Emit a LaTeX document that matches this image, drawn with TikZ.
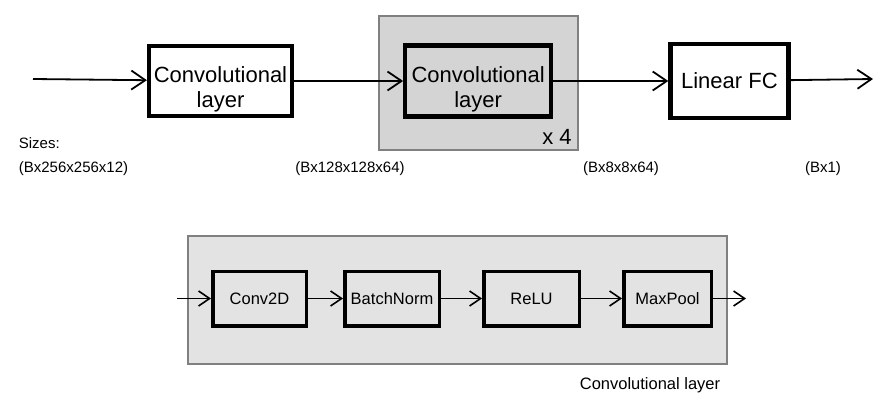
\documentclass[tikz,border=0pt]{standalone}
\usepackage{fontspec}
\setmainfont{Liberation Sans}
\usetikzlibrary{arrows.meta,positioning}
\definecolor{repgray}{HTML}{D4D4D4}
\definecolor{blockgray}{HTML}{E3E3E3}
\definecolor{edgegray}{HTML}{808080}

\begin{document}
\begin{tikzpicture}[x=1pt,y=-1pt,->,>={Straight Barb[length=14pt,width=19pt]},line width=1.8pt,
  layer box/.style={draw,line width=4.2pt,align=center,minimum width=143pt,minimum height=70pt,
    inner sep=0pt,font=\fontsize{22}{25}\selectfont},
  two lines/.style={text height=52pt,text depth=0pt},
  rep box/.style={draw=edgegray,fill=repgray,line width=2pt,minimum width=199pt,minimum height=134pt},
  block box/.style={draw=edgegray,fill=blockgray,line width=2pt,minimum width=539pt,minimum height=128pt},
  op box/.style={draw,line width=3.5pt,minimum width=93.5pt,minimum height=54.5pt,inner sep=0pt,
    font=\fontsize{16.5}{19}\selectfont},
  size label/.style={font=\fontsize{15}{18}\selectfont,inner sep=0pt}]
  \useasboundingbox (0,0) rectangle (878,407);

  % network
  \node[layer box,two lines] (conv1) at (220.5,81) {Convolutional\\layer};
  \node[rep box] (rep) at (478.5,83) {};
  \node[layer box,two lines,minimum width=146pt,minimum height=71pt,right=109pt of conv1] (conv2) {Convolutional\\layer};
  \node[layer box,minimum width=118pt,minimum height=74pt,right=115pt of conv2] (fc) {Linear FC};
  \node[font=\fontsize{22}{25}\selectfont,inner sep=0pt] (times) at (557,137) {x 4};
  \coordinate (in) at (33,79);
  \coordinate (out) at (873,79);

  \draw (in) -- (conv1);
  \draw (conv1) -- (conv2);
  \draw (conv2) -- (fc);
  \draw (fc) -- (out);

  % tensor sizes
  \node[size label,anchor=west] (sizes) at (18,143) {Sizes:};
  \node[size label,anchor=west] (size0) at (18,169) {(Bx256x256x12)};
  \node[size label] (size1) at (350,169) {(Bx128x128x64)};
  \node[size label] (size2) at (621,169) {(Bx8x8x64)};
  \node[size label] (size3) at (823,169) {(Bx1)};

  % inside one convolutional layer
  \begin{scope}[>={Straight Barb[length=11pt,width=15pt]},line width=1.6pt]
    \node[block box] (block) at (457.5,300) {};
    \node[op box] (conv2d) at (259.5,298.5) {Conv2D};
    \node[op box,minimum width=94.5pt,right=35pt of conv2d] (bn) {BatchNorm};
    \node[op box,minimum width=95.5pt,right=41pt of bn] (relu) {ReLU};
    \node[op box,minimum width=87.5pt,right=41pt of relu] (pool) {MaxPool};
    \coordinate (bin) at (177,298.5);
    \coordinate (bout) at (746,298.5);

    \draw (bin) -- (conv2d);
    \draw (conv2d) -- (bn);
    \draw (bn) -- (relu);
    \draw (relu) -- (pool);
    \draw (pool) -- (bout);
  \end{scope}
  \node[font=\fontsize{16.5}{19}\selectfont,inner sep=0pt] (caption) at (650,385) {Convolutional layer};
\end{tikzpicture}
\end{document}
